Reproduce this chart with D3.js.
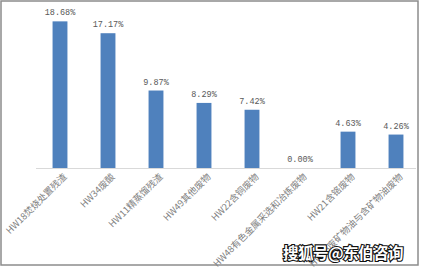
<!DOCTYPE html>
<html><head><meta charset="utf-8">
<script src="https://cdn.jsdelivr.net/npm/d3@7"></script>
<style>body{margin:0;background:#fff}svg{display:block}</style>
</head><body>
<script>
const categories = ["HW18焚烧处置残渣","HW34废酸","HW11精蒸馏残渣","HW49其他废物","HW22含铜废物","HW48有色金属采选和冶炼废物","HW21含铬废物","HW08废矿物油与含矿物油废物"];
const values = [18.68, 17.17, 9.87, 8.29, 7.42, 0.00, 4.63, 4.26];
const valueLabels = ["18.68%","17.17%","9.87%","8.29%","7.42%","0.00%","4.63%","4.26%"];
const watermark = "搜狐号@东伯咨询";

const W = 422, H = 270;
const svg = d3.select("body").append("svg").attr("width", W).attr("height", H);
svg.append("rect").attr("width", W).attr("height", H).attr("fill", "#fff");
svg.append("rect").attr("x", 1).attr("y", 1).attr("width", 417).attr("height", 264)
  .attr("fill", "none").attr("stroke", "#8c8c8c").attr("stroke-width", 1.5);

const x = d3.scaleBand().domain(categories).range([36, 420]).paddingInner(0.69).paddingOuter(0.345);
const y = d3.scaleLinear().domain([0, 20]).range([168, 11]);

svg.append("line").attr("x1", 36).attr("x2", 416).attr("y1", y(0) + 0.5).attr("y2", y(0) + 0.5)
  .attr("stroke", "#d9d9d9").attr("stroke-width", 1);

svg.selectAll("rect.bar").data(categories).join("rect").attr("class", "bar")
  .attr("x", d => x(d)).attr("width", x.bandwidth())
  .attr("y", (d, i) => y(values[i])).attr("height", (d, i) => y(0) - y(values[i]))
  .attr("fill", "#4f81bd");

svg.selectAll("text.val").data(categories).join("text").attr("class", "val")
  .attr("x", d => x(d) + x.bandwidth() / 2)
  .attr("y", (d, i) => y(values[i]) - 6)
  .attr("text-anchor", "middle")
  .attr("font-family", "Liberation Mono, DejaVu Sans Mono, monospace")
  .attr("font-size", 8.5).attr("fill", "#595959")
  .text((d, i) => valueLabels[i]);

svg.selectAll("text.cat").data(categories).join("text").attr("class", "cat")
  .attr("transform", d => `translate(${x(d) + x.bandwidth() / 2 + 5},${y(0) + 7}) rotate(-45)`)
  .attr("text-anchor", "end").attr("dy", "0.35em")
  .attr("font-family", "Noto Sans CJK SC, sans-serif")
  .attr("font-size", 9.3).attr("fill", "#808080")
  .text(d => d);

svg.append("text").attr("x", 283).attr("y", 259)
  .attr("font-family", "Noto Sans CJK SC, sans-serif").attr("font-weight", "bold")
  .attr("font-size", 15.5).attr("fill", "#fff").attr("stroke", "#111").attr("stroke-width", 2.2)
  .attr("paint-order", "stroke").attr("letter-spacing", -0.5)
  .text(watermark);
</script>
</body></html>
